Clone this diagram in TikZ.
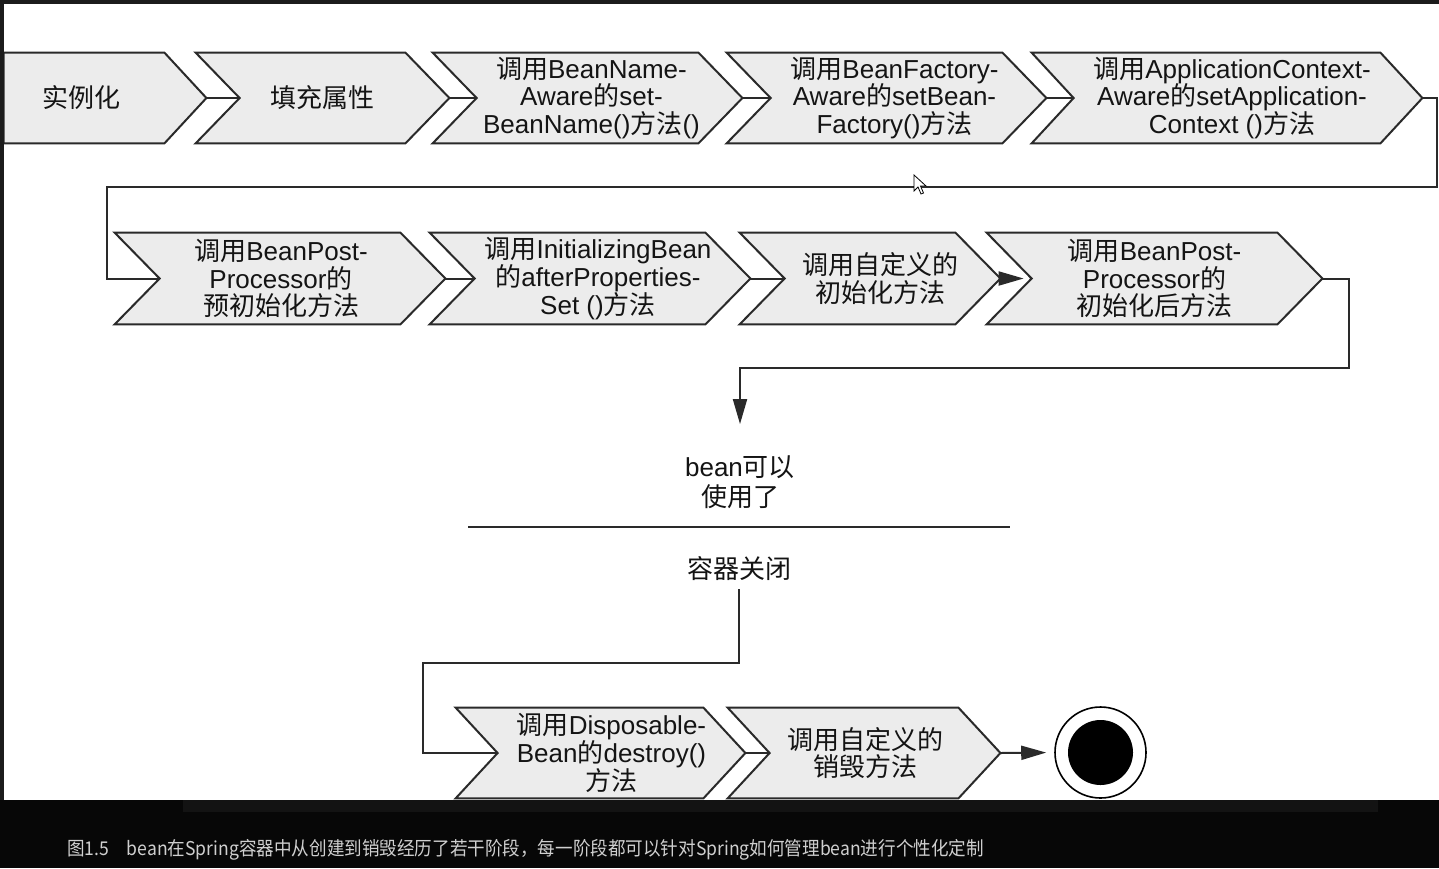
\documentclass[tikz,border=0pt]{standalone}
\usepackage{fontspec}
\setmainfont{Liberation Sans}
\newfontfamily\cjkfont{Noto Sans CJK SC}
\newcommand\zh[1]{{\cjkfont #1}}
\usetikzlibrary{calc,arrows.meta}
\pgfdeclarelayer{bglayer}
\pgfsetlayers{bglayer,main}
\definecolor{chevfill}{HTML}{ECECEC}
\definecolor{chevline}{HTML}{2A2A2A}
\definecolor{txt}{HTML}{141414}
\definecolor{framecol}{HTML}{1C1C1C}
\definecolor{bandcol}{HTML}{070707}
\definecolor{bandstrip}{HTML}{131313}
\definecolor{captxt}{HTML}{CFCFCF}
% name, left, right, top, bottom, depth, text shift, text
\newcommand\stage[8]{%
  \pgfmathsetmacro\stw{(#3-#2)*0.5}%
  \pgfmathsetmacro\sth{(#5-#4)*0.5}%
  \node[stagetext, minimum width=\stw pt, minimum height=\sth pt] (#1) at ({(#2+#3)/2+#6/2+#7},{(#4+#5)/2}) {#8};
  \begin{pgfonlayer}{bglayer}
  \filldraw[chev] ($(#1.north west)+(-#6/2-#7,0)$) -- ($(#1.north east)+(-#6/2-#7,0)$) -- ($(#1.east)+(#6/2-#7,0)$) -- ($(#1.south east)+(-#6/2-#7,0)$) -- ($(#1.south west)+(-#6/2-#7,0)$) -- ($(#1.west)+(#6/2-#7,0)$) -- cycle;
  \end{pgfonlayer}
  \coordinate (#1-in) at ($(#1.west)+(#6/2-#7,0)$);
  \coordinate (#1-out) at ($(#1.east)+(#6/2-#7,0)$);
}
\begin{document}
\begin{tikzpicture}[x=0.5pt,y=-0.5pt,
  stagetext/.style={font=\fontsize{13pt}{13.8pt}\selectfont, align=center, inner sep=0pt, text=txt},
  plaintext/.style={font=\fontsize{13pt}{15pt}\selectfont, align=center, text=txt, inner xsep=0pt},
  chev/.style={fill=chevfill, draw=chevline, line width=1pt, line join=miter},
  conn/.style={draw=chevline, line width=1pt},
  arr/.style={conn, -{Triangle[length=12.5pt,width=7pt]}}
]
\begin{pgfonlayer}{bglayer}
  \fill[white] (0,0) rectangle (1439,868);
\end{pgfonlayer}
\useasboundingbox (0,0) rectangle (1439,868);

% row 1
\node[stagetext, minimum width=80pt, minimum height=45pt] (inst) at (84,98) {\zh{实例化}\hspace*{3pt}};
\begin{pgfonlayer}{bglayer}
\filldraw[chev] (inst.north west) -- (inst.north east) -- ($(inst.east)+(42,0)$) -- (inst.south east) -- (inst.south west) -- cycle;
\end{pgfonlayer}
\coordinate (inst-out) at ($(inst.east)+(42,0)$);
\stage{fill}{196}{405}{53}{143}{44}{0}{\zh{填充属性}}
\stage{bna}{433}{698}{53}{143}{44}{4}{\zh{调用}BeanName-\\Aware\zh{的}set-\\BeanName()\zh{方法}()}
\stage{bfa}{727}{1002}{53}{143}{44}{8}{\zh{调用}BeanFactory-\\Aware\zh{的}setBean-\\Factory()\zh{方法}}
\stage{aca}{1032}{1380}{53}{143}{42}{5}{\zh{调用}ApplicationContext-\\Aware\zh{的}setApplication-\\Context ()\zh{方法}}
% row 2
\stage{bpp1}{115}{400}{233}{324}{45}{1}{\zh{调用}BeanPost-\\Processor\zh{的}\\\zh{预初始化方法}}
\stage{ib}{430}{705}{233}{324}{45}{8}{\zh{调用}InitializingBean\\\zh{的}afterProperties-\\Set ()\zh{方法}}
\stage{cinit}{740}{955}{233}{324}{45}{10}{\zh{调用自定义的}\\\zh{初始化方法}}
\stage{bpp2}{987}{1277}{233}{324}{45}{0}{\zh{调用}BeanPost-\\Processor\zh{的}\\\zh{初始化后方法}}
% row 3
\stage{disp}{456}{703}{708}{798}{42}{11}{\zh{调用}Disposable-\\Bean\zh{的}destroy()\\\zh{方法}}
\stage{cdes}{728}{958}{708}{798}{42}{1}{\zh{调用自定义的}\\\zh{销毁方法}}

% middle texts
\node[plaintext, inner ysep=15.5pt] (ready) at (740,482) {bean\zh{可以}\\\zh{使用了}};
\node[plaintext, inner ysep=4pt] (closed) at (739,569) {\zh{容器关闭}};
\coordinate (sepl) at (468,527);
\coordinate (sepr) at (1010,527);
\draw[conn] (sepl) -- (sepr);

% end state
\node[circle, draw=black, line width=0.8pt, minimum size=45.5pt, inner sep=0pt, fill=white] (endc) at (1100.5,752.5) {};
\fill[black] (endc.center) circle[radius=32.5];

% connectors
\draw[conn] (inst-out) -- (fill-in);
\draw[conn] (fill-out) -- (bna-in);
\draw[conn] (bna-out) -- (bfa-in);
\draw[conn] (bfa-out) -- (aca-in);
\draw[conn] (aca-out) -| (1437,187) -| (107,278.5) -- (bpp1-in);
\draw[conn] (bpp1-out) -- (ib-in);
\draw[conn] (ib-out) -- (cinit-in);
\draw[arr, shorten >=4pt] (cinit-out) -- (bpp2-in);
\draw[arr] (bpp2-out) -| (1349,368) -| (ready.north);
\draw[conn] (closed.south) |- (423,663) |- (disp-in);
\draw[conn] (disp-out) -- (cdes-in);
\draw[arr, shorten >=4pt] (cdes-out) -- (endc.west);

% mouse cursor
\filldraw[fill=white, draw=black, line width=0.4pt] (914,175) -- (914,191) -- (918,187) -- (921,194) -- (923.5,193) -- (920.5,186) -- (926,186) -- cycle;

% screen frame and caption band
\fill[framecol] (0,0) rectangle (4,800);
\fill[framecol] (0,0) rectangle (1439,4);
\fill[bandcol] (0,800) rectangle (1439,868);
\fill[bandstrip] (183,800) rectangle (1378,812);
\node[anchor=base west, inner sep=0pt, text=captxt, font=\cjkfont\fontsize{9.5pt}{11pt}\selectfont] (cap) at (67,855) {\scalebox{0.925}[1]{图1.5\quad bean在Spring容器中从创建到销毁经历了若干阶段，每一阶段都可以针对Spring如何管理bean进行个性化定制}};
\end{tikzpicture}
\end{document}
